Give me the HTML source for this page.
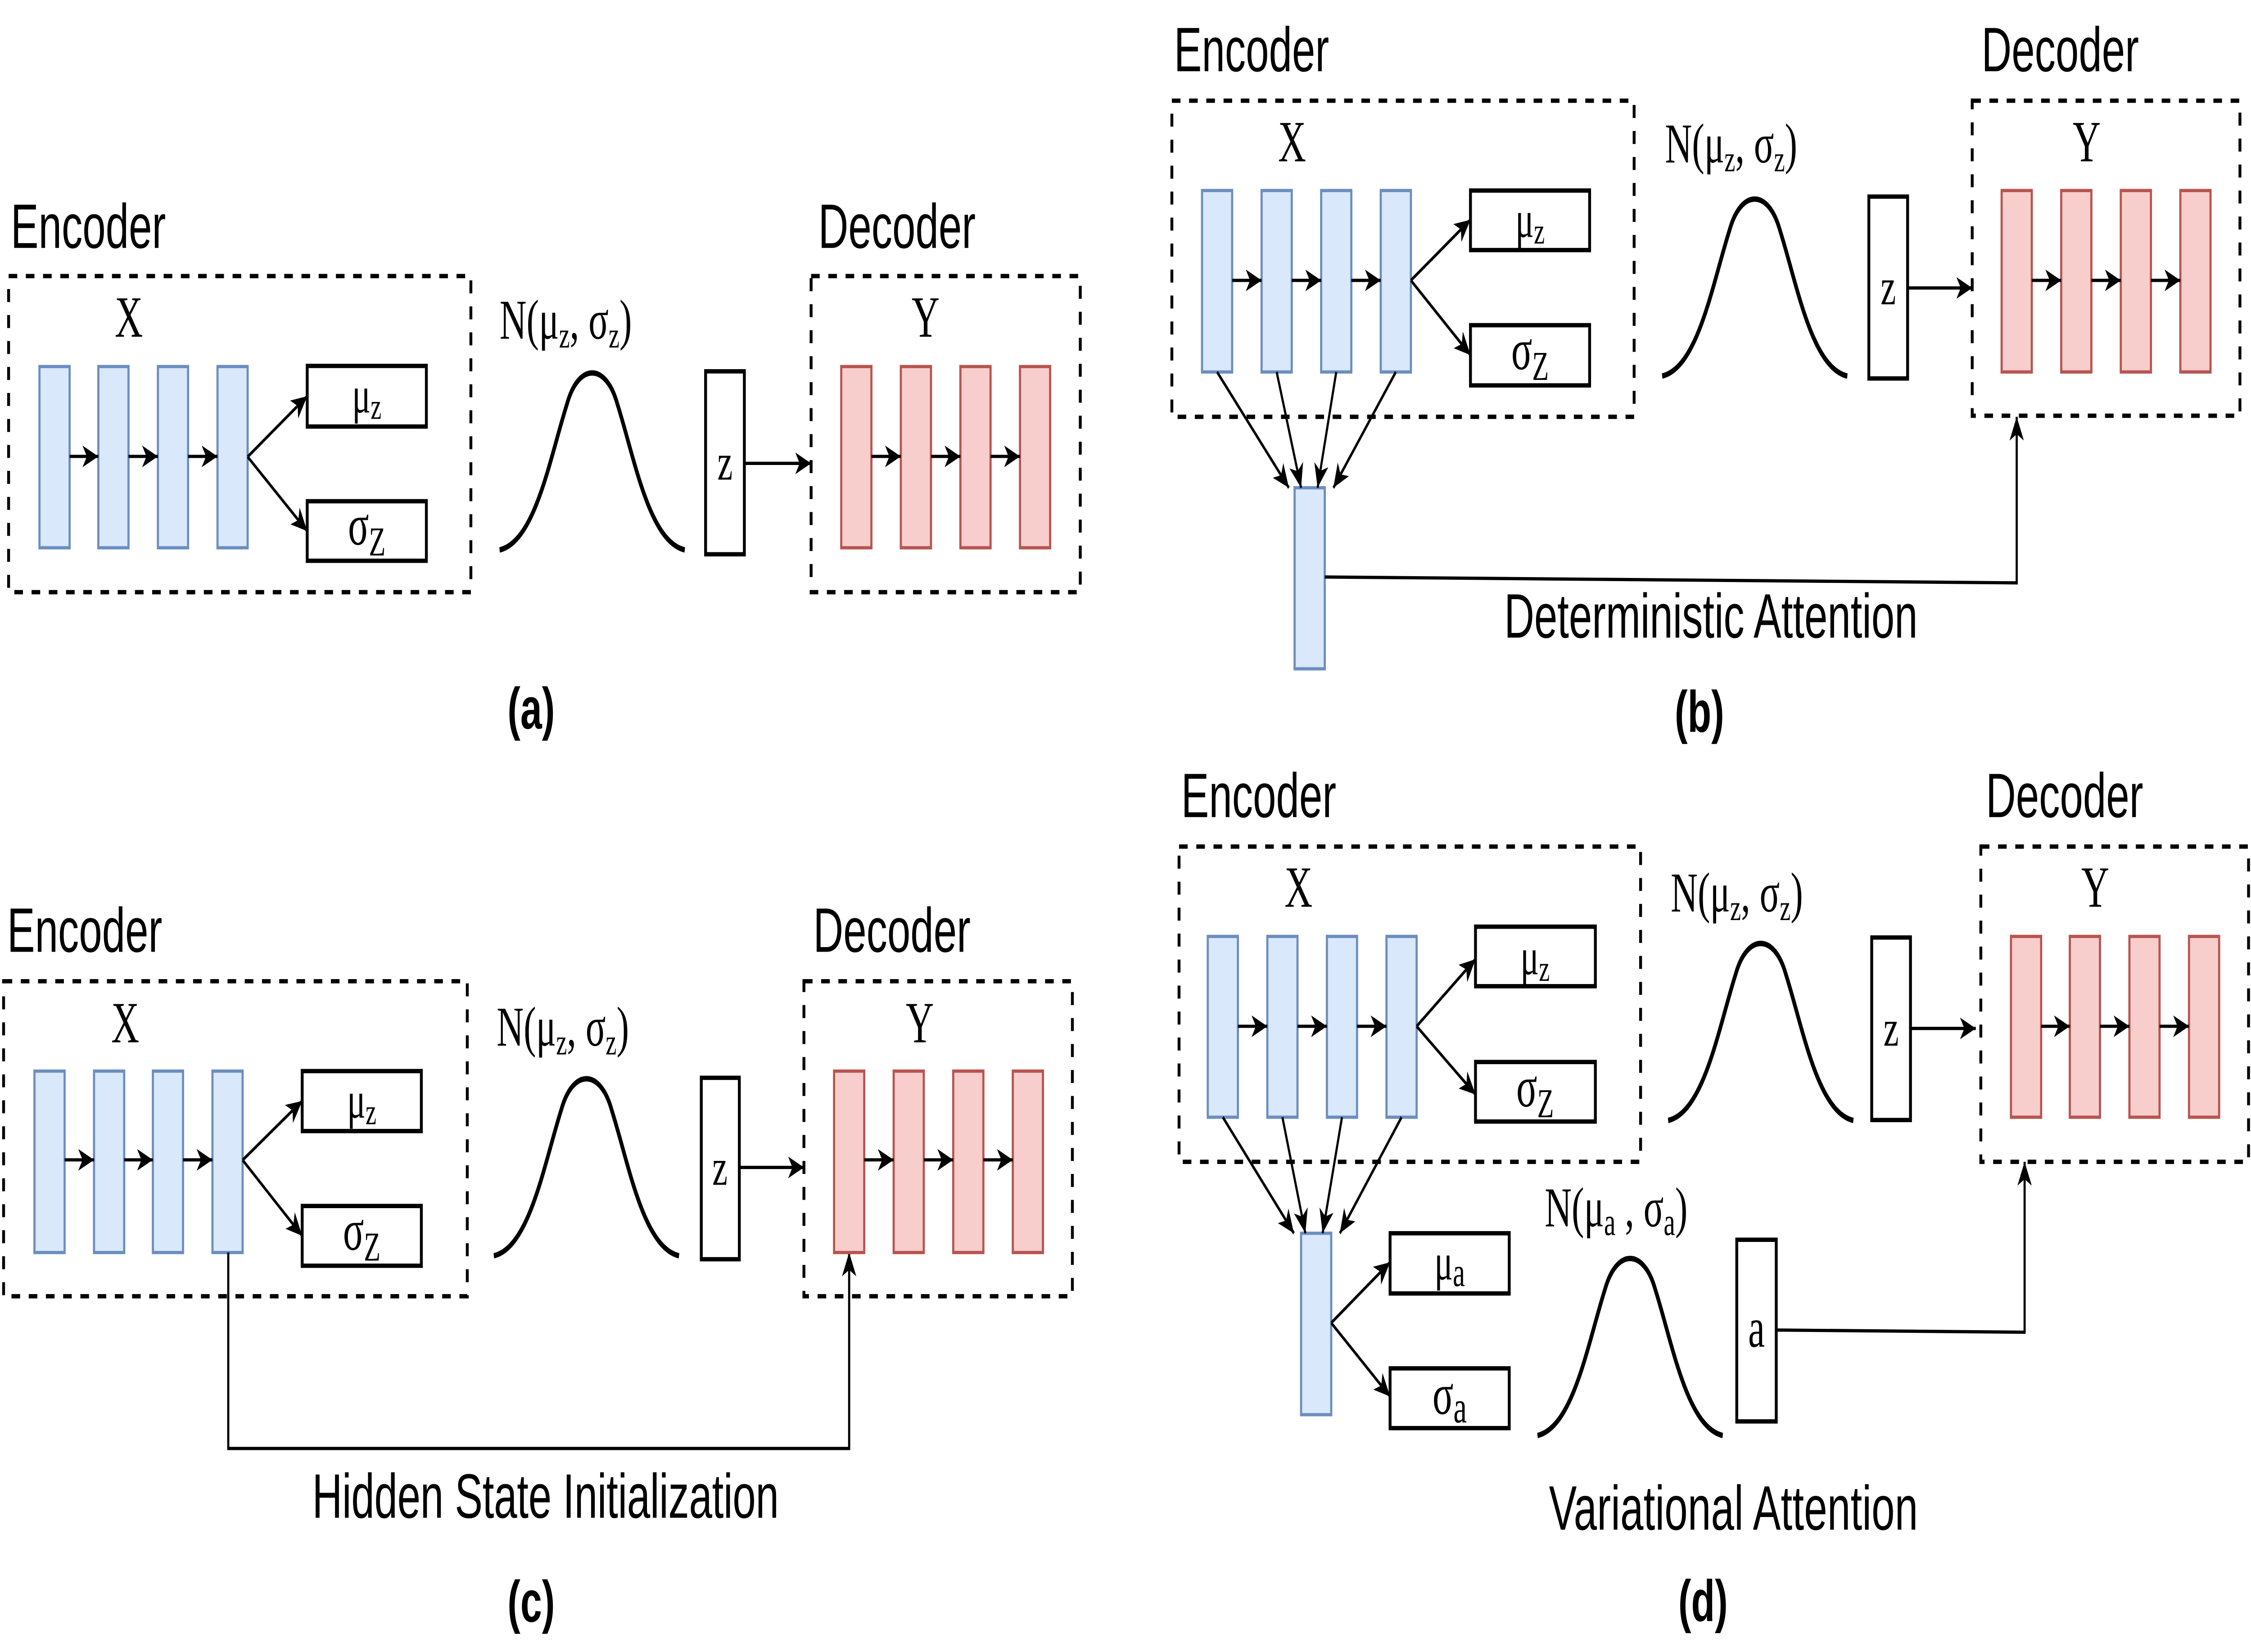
<!DOCTYPE html>
<html><head><meta charset="utf-8"><style>
html,body{margin:0;padding:0;background:#fff;width:100%;height:100%;overflow:hidden;}
svg{display:block;width:100vw;height:100vh;}
.s{font-family:"Liberation Sans",Arial,sans-serif;}
.r{font-family:"Liberation Serif","Times New Roman",serif;}
</style></head><body>
<svg xmlns="http://www.w3.org/2000/svg" viewBox="0 0 1568 763" preserveAspectRatio="none">
<defs>
<marker id="ah" markerUnits="userSpaceOnUse" markerWidth="12" markerHeight="10" refX="11" refY="5" orient="auto">
<path d="M0,0 L11,5 L0,10 L3,5 Z" fill="#000"/>
</marker>
</defs>
<rect width="1568" height="763" fill="#fff"/>

<!-- PANEL A -->
<g transform="translate(6,127.5)">
<rect x="0" y="0" width="322" height="146" fill="none" stroke="#000" stroke-width="2" stroke-dasharray="6 6"/>
<text class="s" x="1.5" y="-13" font-size="29">Encoder</text>
<text class="r" x="74" y="28" font-size="27">X</text>
<g fill="#dae8fc" stroke="#6c8ebf" stroke-width="1.5">
<rect x="21.5" y="41.8" width="21" height="83.7"/><rect x="62.5" y="41.8" width="21" height="83.7"/><rect x="104" y="41.8" width="21" height="83.7"/><rect x="145.5" y="41.8" width="21" height="83.7"/>
</g>
<g stroke="#000" stroke-width="1.5" fill="none" marker-end="url(#ah)">
<line x1="42.5" y1="83.3" x2="62.5" y2="83.3"/><line x1="83.5" y1="83.3" x2="104" y2="83.3"/><line x1="125" y1="83.3" x2="145.5" y2="83.3"/>
<line x1="166.5" y1="83.5" x2="208" y2="55.5"/><line x1="166.5" y1="83.5" x2="208" y2="117.8"/>
<line x1="512.5" y1="86.5" x2="559" y2="86.5"/>
</g>
<g fill="#fff" stroke="#000" stroke-width="2">
<rect x="208" y="41.5" width="83" height="28"/><rect x="208" y="104" width="83" height="27.5"/><rect x="485.5" y="44" width="27" height="84.5"/>
</g>
<text class="r" x="249.5" y="63" font-size="24" text-anchor="middle">μ<tspan font-size="17" dy="3">z</tspan></text>
<text class="r" x="249.5" y="124" font-size="27" text-anchor="middle">σ<tspan font-size="19" dy="5">Z</tspan></text>
<text class="r" x="342" y="29" font-size="26">N(μ<tspan font-size="17" dy="4">z</tspan><tspan dy="-4">, σ</tspan><tspan font-size="17" dy="4">z</tspan><tspan dy="-4">)</tspan></text>
<path d="M342,126.5 C367,122.5 377,84 389,59 C397,40 416,40 424,59 C436,84 446,122.5 471,126.5" fill="none" stroke="#000" stroke-width="2.5"/>
<text class="r" x="499" y="94" font-size="24" text-anchor="middle">z</text>
<text class="s" x="564" y="-13" font-size="29">Decoder</text>
<rect x="559" y="0" width="187.5" height="146" fill="none" stroke="#000" stroke-width="2" stroke-dasharray="6 6"/>
<text class="r" x="629" y="28" font-size="27">Y</text>
<g fill="#f8cecc" stroke="#b85450" stroke-width="1.5">
<rect x="580" y="41.8" width="21" height="83.7"/><rect x="621.5" y="41.8" width="21" height="83.7"/><rect x="663" y="41.8" width="21" height="83.7"/><rect x="704.5" y="41.8" width="21" height="83.7"/>
</g>
<g stroke="#000" stroke-width="1.5" fill="none" marker-end="url(#ah)">
<line x1="601" y1="83.3" x2="621.5" y2="83.3"/><line x1="642.5" y1="83.3" x2="663" y2="83.3"/><line x1="684" y1="83.3" x2="704.5" y2="83.3"/>
</g>
</g>
<text class="s" x="370" y="336.5" font-size="27" font-weight="bold" text-anchor="middle">(a)</text>

<!-- PANEL B -->
<g transform="translate(816.3,46.5)">
<rect x="0" y="0" width="322" height="146" fill="none" stroke="#000" stroke-width="2" stroke-dasharray="6 6"/>
<text class="s" x="1.5" y="-13.6" font-size="29">Encoder</text>
<text class="r" x="74" y="28" font-size="27">X</text>
<g fill="#dae8fc" stroke="#6c8ebf" stroke-width="1.5">
<rect x="21" y="41.5" width="21" height="83.8"/><rect x="62.5" y="41.5" width="21" height="83.8"/><rect x="104" y="41.5" width="21" height="83.8"/><rect x="145.5" y="41.5" width="21" height="83.8"/>
<rect x="85.5" y="178.8" width="21" height="83.6"/>
</g>
<g stroke="#000" stroke-width="1.5" fill="none" marker-end="url(#ah)">
<line x1="42" y1="83" x2="62.5" y2="83"/><line x1="83.5" y1="83" x2="104" y2="83"/><line x1="125" y1="83" x2="145.5" y2="83"/>
<line x1="166.5" y1="83" x2="208" y2="55"/><line x1="166.5" y1="83" x2="208" y2="117.5"/>
<line x1="512.5" y1="86.5" x2="557.5" y2="86.5"/>
<line x1="31.5" y1="125.3" x2="81.5" y2="178.8"/><line x1="73" y1="125.3" x2="90" y2="178.8"/><line x1="114.5" y1="125.3" x2="101.5" y2="178.8"/><line x1="156" y1="125.3" x2="112.5" y2="178.8"/>
<polyline points="106.5,220 588.5,222.7 588.5,146"/>
</g>
<g fill="#fff" stroke="#000" stroke-width="2">
<rect x="208" y="41.5" width="83" height="27.5"/><rect x="208" y="103.7" width="83" height="27.8"/><rect x="485.5" y="44.3" width="27" height="84"/>
</g>
<text class="r" x="249.5" y="63" font-size="24" text-anchor="middle">μ<tspan font-size="17" dy="3">z</tspan></text>
<text class="r" x="249.5" y="124" font-size="27" text-anchor="middle">σ<tspan font-size="19" dy="5">Z</tspan></text>
<text class="r" x="343.5" y="28.6" font-size="26">N(μ<tspan font-size="17" dy="4">z</tspan><tspan dy="-4">, σ</tspan><tspan font-size="17" dy="4">z</tspan><tspan dy="-4">)</tspan></text>
<path d="M341.5,127.2 C366.5,123.2 376.5,84.7 388.5,59.7 C396.5,40.7 415.5,40.7 423.5,59.7 C435.5,84.7 445.5,123.2 470.5,127.2" fill="none" stroke="#000" stroke-width="2.5"/>
<text class="r" x="499" y="94" font-size="24" text-anchor="middle">z</text>
<text class="s" x="564" y="-13.6" font-size="29">Decoder</text>
<rect x="557.5" y="0" width="186.5" height="145.5" fill="none" stroke="#000" stroke-width="2" stroke-dasharray="6 6"/>
<text class="r" x="627.5" y="28" font-size="27">Y</text>
<g fill="#f8cecc" stroke="#b85450" stroke-width="1.5">
<rect x="578" y="41.5" width="21" height="83.8"/><rect x="619.5" y="41.5" width="21" height="83.8"/><rect x="661" y="41.5" width="21" height="83.8"/><rect x="702.5" y="41.5" width="21" height="83.8"/>
</g>
<g stroke="#000" stroke-width="1.5" fill="none" marker-end="url(#ah)">
<line x1="599" y1="83" x2="619.5" y2="83"/><line x1="640.5" y1="83" x2="661" y2="83"/><line x1="682" y1="83" x2="702.5" y2="83"/>
</g>
</g>
<text class="s" x="1047.8" y="294.5" font-size="29" textLength="288">Deterministic Attention</text>
<text class="s" x="1183.8" y="338" font-size="27" font-weight="bold" text-anchor="middle">(b)</text>

<!-- PANEL C -->
<g transform="translate(2.5,453.2)">
<rect x="0" y="0" width="323" height="145.5" fill="none" stroke="#000" stroke-width="2" stroke-dasharray="6 6"/>
<text class="s" x="2.5" y="-13.6" font-size="29">Encoder</text>
<text class="r" x="75" y="28.2" font-size="27">X</text>
<g fill="#dae8fc" stroke="#6c8ebf" stroke-width="1.5">
<rect x="21.5" y="41.5" width="21" height="83.8"/><rect x="63" y="41.5" width="21" height="83.8"/><rect x="104" y="41.5" width="21" height="83.8"/><rect x="145.5" y="41.5" width="21" height="83.8"/>
</g>
<g stroke="#000" stroke-width="1.5" fill="none" marker-end="url(#ah)">
<line x1="42.5" y1="82.5" x2="63" y2="82.5"/><line x1="84" y1="82.5" x2="104" y2="82.5"/><line x1="125" y1="82.5" x2="145.5" y2="82.5"/>
<line x1="166.5" y1="82.6" x2="208" y2="55.3"/><line x1="166.5" y1="82.6" x2="208" y2="117.6"/>
<line x1="512.5" y1="86" x2="557.5" y2="86"/>
<polyline points="156.5,125.3 156.5,215.8 589,215.8 589,125.3"/>
</g>
<g fill="#fff" stroke="#000" stroke-width="2">
<rect x="208" y="41.5" width="83" height="27.7"/><rect x="208" y="103.8" width="83" height="27.6"/><rect x="486" y="44.6" width="26.5" height="83.8"/>
</g>
<text class="r" x="249.5" y="63" font-size="24" text-anchor="middle">μ<tspan font-size="17" dy="3">z</tspan></text>
<text class="r" x="249.5" y="124" font-size="27" text-anchor="middle">σ<tspan font-size="19" dy="5">Z</tspan></text>
<text class="r" x="343.5" y="29.8" font-size="26">N(μ<tspan font-size="17" dy="4">z</tspan><tspan dy="-4">, σ</tspan><tspan font-size="17" dy="4">z</tspan><tspan dy="-4">)</tspan></text>
<path d="M341.5,126.8 C366.5,122.8 376.5,84.3 388.5,59.3 C396.5,40.3 415.5,40.3 423.5,59.3 C435.5,84.3 445.5,122.8 470.5,126.8" fill="none" stroke="#000" stroke-width="2.5"/>
<text class="r" x="499" y="94" font-size="24" text-anchor="middle">z</text>
<text class="s" x="564" y="-13.6" font-size="29">Decoder</text>
<rect x="557.5" y="0" width="187" height="145.5" fill="none" stroke="#000" stroke-width="2" stroke-dasharray="6 6"/>
<text class="r" x="628.5" y="28.2" font-size="27">Y</text>
<g fill="#f8cecc" stroke="#b85450" stroke-width="1.5">
<rect x="578.5" y="41.5" width="21" height="83.8"/><rect x="620" y="41.5" width="21" height="83.8"/><rect x="661.5" y="41.5" width="21" height="83.8"/><rect x="703" y="41.5" width="21" height="83.8"/>
</g>
<g stroke="#000" stroke-width="1.5" fill="none" marker-end="url(#ah)">
<line x1="599.5" y1="82.5" x2="620" y2="82.5"/><line x1="641" y1="82.5" x2="661.5" y2="82.5"/><line x1="682.5" y1="82.5" x2="703" y2="82.5"/>
</g>
</g>
<text class="s" x="217.5" y="701" font-size="29" textLength="325">Hidden State Initialization</text>
<text class="s" x="370" y="749" font-size="27" font-weight="bold" text-anchor="middle">(c)</text>

<!-- PANEL D -->
<g transform="translate(821.3,391)">
<rect x="0" y="0" width="321.5" height="145.6" fill="none" stroke="#000" stroke-width="2" stroke-dasharray="6 6"/>
<text class="s" x="1.5" y="-13.6" font-size="29">Encoder</text>
<text class="r" x="73.5" y="27.8" font-size="27">X</text>
<g fill="#dae8fc" stroke="#6c8ebf" stroke-width="1.5">
<rect x="20" y="41.5" width="21" height="83.5"/><rect x="61.5" y="41.5" width="21" height="83.5"/><rect x="103" y="41.5" width="21" height="83.5"/><rect x="144.5" y="41.5" width="21" height="83.5"/>
<rect x="85" y="178.6" width="21" height="83.8"/>
</g>
<g stroke="#000" stroke-width="1.5" fill="none" marker-end="url(#ah)">
<line x1="41" y1="83" x2="61.5" y2="83"/><line x1="82.5" y1="83" x2="103" y2="83"/><line x1="124" y1="83" x2="144.5" y2="83"/>
<line x1="165.5" y1="83" x2="206.5" y2="52"/><line x1="165.5" y1="83" x2="206.5" y2="114.5"/>
<line x1="509.5" y1="84" x2="555" y2="84"/>
<line x1="30.5" y1="125" x2="80" y2="178.6"/><line x1="72" y1="125" x2="88" y2="178.6"/><line x1="113.5" y1="125" x2="100" y2="178.6"/><line x1="155" y1="125" x2="112" y2="178.6"/>
<line x1="106" y1="220" x2="147" y2="192"/><line x1="106" y1="220" x2="147" y2="254"/>
<polyline points="416,223.3 589,224.3 589,145.6"/>
</g>
<g fill="#fff" stroke="#000" stroke-width="2">
<rect x="206.5" y="37" width="83.5" height="27.5"/><rect x="206.5" y="99.5" width="83.5" height="27.5"/><rect x="482.5" y="42" width="27" height="84.3"/>
<rect x="147" y="178.6" width="83" height="27.8"/><rect x="147" y="241" width="83" height="27.6"/><rect x="388.5" y="181.6" width="27.5" height="83.9"/>
</g>
<text class="r" x="248" y="59" font-size="24" text-anchor="middle">μ<tspan font-size="17" dy="3">z</tspan></text>
<text class="r" x="248" y="120" font-size="27" text-anchor="middle">σ<tspan font-size="19" dy="5">Z</tspan></text>
<text class="r" x="188.5" y="200" font-size="24" text-anchor="middle">μ<tspan font-size="19" dy="3">a</tspan></text>
<text class="r" x="188.5" y="262" font-size="27" text-anchor="middle">σ<tspan font-size="21" dy="4">a</tspan></text>
<text class="r" x="342.5" y="30" font-size="26">N(μ<tspan font-size="17" dy="4">z</tspan><tspan dy="-4">, σ</tspan><tspan font-size="17" dy="4">z</tspan><tspan dy="-4">)</tspan></text>
<path d="M340.7,126.5 C365.7,122.5 375.7,84 387.7,59 C395.7,40 414.7,40 422.7,59 C434.7,84 444.7,122.5 469.7,126.5" fill="none" stroke="#000" stroke-width="2.5"/>
<text class="r" x="496" y="92" font-size="24" text-anchor="middle">z</text>
<text class="r" x="254.7" y="175.4" font-size="26">N(μ<tspan font-size="18" dy="4">a</tspan><tspan dy="-4"> , σ</tspan><tspan font-size="18" dy="4">a</tspan><tspan dy="-4">)</tspan></text>
<path d="M249.7,272 C274.7,268 284.7,229.5 296.7,204.5 C304.7,185.5 323.7,185.5 331.7,204.5 C343.7,229.5 353.7,268 378.7,272" fill="none" stroke="#000" stroke-width="2.5"/>
<text class="r" x="402.2" y="231" font-size="26" text-anchor="middle">a</text>
<text class="s" x="562" y="-13.6" font-size="29">Decoder</text>
<rect x="558.5" y="0" width="186.5" height="145.6" fill="none" stroke="#000" stroke-width="2" stroke-dasharray="6 6"/>
<text class="r" x="628.5" y="27.8" font-size="27">Y</text>
<g fill="#f8cecc" stroke="#b85450" stroke-width="1.5">
<rect x="579.5" y="41.5" width="21" height="83.5"/><rect x="620.5" y="41.5" width="21" height="83.5"/><rect x="662" y="41.5" width="21" height="83.5"/><rect x="703.5" y="41.5" width="21" height="83.5"/>
</g>
<g stroke="#000" stroke-width="1.5" fill="none" marker-end="url(#ah)">
<line x1="600.5" y1="83" x2="620.5" y2="83"/><line x1="641.5" y1="83" x2="662" y2="83"/><line x1="683" y1="83" x2="703.5" y2="83"/>
</g>
</g>
<text class="s" x="1079" y="706.5" font-size="29" textLength="257">Variational Attention</text>
<text class="s" x="1186.3" y="748.7" font-size="27" font-weight="bold" text-anchor="middle">(d)</text>
</svg>
</body></html>
